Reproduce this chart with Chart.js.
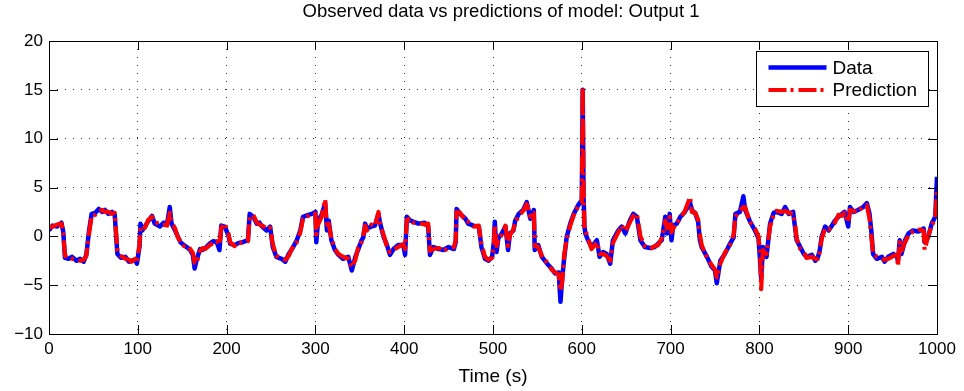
<!DOCTYPE html>
<html>
<head>
<meta charset="utf-8">
<script src="https://cdn.jsdelivr.net/npm/chart.js@4/dist/chart.umd.min.js"></script>
<style>
  html, body { margin: 0; padding: 0; background: #fff; }
  #wrap { width: 964px; height: 391px; }
</style>
</head>
<body>
<div id="wrap"><canvas id="fitChart" width="964" height="391"></canvas></div>
<script>
// waktu (s) dan nilai yang dibaca dari gambar
const times = [
  0, 4, 9, 14, 16, 18, 22, 26, 31, 35, 39, 42, 45, 48, 52, 56, 60, 63, 67, 71,
  74, 77, 81, 86, 90, 93, 97, 99, 102, 103, 105, 108, 112, 116, 119, 125, 129, 133, 136, 138,
  142, 145, 148, 152, 155, 159, 162, 164, 166, 170, 173, 176, 181, 185, 189, 192, 194, 198, 202, 204,
  209, 213, 218, 224, 226, 230, 234, 237, 240, 245, 249, 252, 256, 262, 266, 270, 275, 279, 283, 286,
  292, 296, 300, 301, 303, 307, 311, 313, 315, 318, 322, 326, 331, 337, 341, 345, 348, 352, 354, 356,
  358, 363, 367, 371, 373, 377, 380, 384, 388, 393, 399, 401, 403, 407, 410, 416, 423, 427, 429, 433,
  439, 444, 450, 456, 458, 459, 463, 469, 472, 478, 484, 487, 491, 495, 499, 501, 502, 504, 506, 510,
  514, 517, 519, 523, 525, 529, 534, 538, 542, 546, 547, 551, 555, 561, 566, 570, 574, 576, 578, 580,
  583, 587, 591, 596, 600, 601, 602, 603, 604, 607, 611, 617, 620, 624, 628, 632, 635, 641, 645, 649,
  654, 658, 662, 666, 671, 677, 682, 686, 690, 694, 696, 699, 701, 703, 707, 711, 716, 722, 724, 728,
  731, 733, 735, 741, 746, 750, 752, 756, 761, 767, 771, 773, 778, 782, 784, 789, 795, 799, 801, 802,
  804, 808, 812, 816, 819, 825, 829, 833, 838, 840, 842, 846, 850, 853, 859, 863, 866, 868, 870, 874,
  878, 881, 885, 889, 893, 896, 900, 902, 906, 911, 917, 921, 924, 926, 928, 932, 938, 941, 945, 951,
  955, 956, 958, 960, 964, 968, 973, 979, 985, 986, 990, 994, 998, 1000
];

const dataValues = [
  0.6, 1.1, 1.0, 1.4, 0.5, -2.2, -2.3, -2.1, -2.5, -2.3, -2.6, -1.9, 0.5, 2.3, 2.4, 2.8, 2.5, 2.7, 2.3, 2.5,
  2.2, -1.8, -2.2, -2.1, -2.6, -2.5, -2.4, -2.8, -1.0, 1.3, 0.6, 1.0, 1.6, 2.1, 1.3, 1.0, 1.4, 1.3, 3.0, 1.3,
  0.6, 0.0, -0.6, -0.9, -1.1, -1.4, -1.9, -3.3, -2.5, -1.3, -1.4, -1.2, -0.75, -0.5, -0.6, -1.4, 1.1, 1.0, 0.1, -0.75,
  -0.9, -0.7, -0.6, -0.4, 2.3, 2.0, 1.3, 1.4, 1.0, 0.6, 1.0, -1.1, -2.1, -2.3, -2.6, -1.8, -1.1, -0.4, 0.6, 2.0,
  2.2, 2.3, 2.5, -0.6, 1.6, 2.2, 3.4, 0.6, 1.6, -0.4, -1.4, -1.9, -2.3, -2.1, -3.5, -2.1, -1.4, -0.4, -0.1, 1.3,
  0.8, 1.0, 1.1, 2.3, 1.3, -0.1, -0.75, -1.9, -1.3, -0.9, -0.9, -1.9, 2.0, 1.6, 1.5, 1.3, 1.4, 1.0, -1.9, -1.1,
  -1.3, -1.4, -1.1, -1.3, -0.6, 2.8, 2.3, 1.8, 1.3, 1.1, 1.0, -1.1, -2.3, -2.5, -2.1, -0.5, 1.5, -1.6, -0.2, 0.3,
  1.0, -1.4, 0.3, 0.6, 1.6, 2.3, 2.7, 3.5, 1.8, 2.7, -1.4, -0.9, -2.1, -2.8, -3.3, -3.8, -3.7, -6.7, -4.2, -2.4,
  -0.05, 1.3, 2.3, 3.2, 3.7, 15.0, 4.0, 1.0, 0.3, -0.4, -1.1, -0.4, -2.1, -1.6, -1.8, -2.8, -0.4, 0.6, 1.0, 0.3,
  1.6, 2.3, 2.0, -0.4, -1.1, -1.2, -1.1, -0.75, -0.4, 2.0, 0.3, 2.3, -0.4, 1.1, 1.3, 2.0, 2.5, 3.4, 2.7, 2.3,
  1.5, -0.4, -1.1, -2.1, -3.1, -3.5, -4.8, -2.5, -1.8, -0.75, -0.1, 2.3, 2.5, 4.1, 2.7, 1.6, 0.6, -0.2, -2.8, -4.3,
  -1.1, -2.1, 1.3, 2.4, 2.5, 2.3, 3.0, 2.3, 2.5, 1.0, -0.4, -1.1, -1.8, -2.1, -1.9, -2.5, -2.1, -1.4, -0.1, 1.0,
  0.6, 1.0, 1.6, 2.0, 2.3, 2.5, 1.0, 3.0, 2.5, 2.7, 3.0, 3.4, 2.3, 0.6, -1.8, -2.3, -2.1, -2.6, -2.1, -1.8,
  -2.1, -2.5, -0.4, -1.8, -0.4, 0.3, 0.6, 0.5, 0.8, -0.6, -0.1, 1.3, 2.0, 6.1
];

const predValues = [
  0.9, 1.0, 1.2, 1.3, 0.3, -2.0, -2.1, -2.3, -2.4, -2.5, -2.4, -2.0, 0.2, 2.1, 2.2, 2.6, 2.7, 2.5, 2.5, 2.3,
  2.4, -1.5, -2.0, -2.3, -2.4, -2.6, -2.3, -2.6, -0.8, 1.0, 0.8, 0.9, 1.7, 2.0, 1.5, 1.2, 1.2, 1.1, 2.4, 1.5,
  0.8, -0.1, -0.5, -1.0, -0.9, -1.3, -1.7, -2.7, -2.8, -1.5, -1.2, -1.3, -0.9, -0.7, -0.5, -0.9, 0.9, 1.3, 0.3, -0.6,
  -1.0, -0.6, -0.7, -0.5, 2.0, 2.2, 1.4, 1.2, 1.1, 0.8, 0.9, -0.8, -2.0, -2.2, -2.4, -2.0, -1.0, -0.6, 0.4, 1.8,
  2.1, 2.4, 2.3, 0.2, 1.2, 2.0, 3.8, 0.8, 1.3, -0.2, -1.3, -1.8, -2.1, -2.3, -3.2, -2.4, -1.2, -0.6, 0.2, 1.1,
  0.6, 1.2, 1.0, 2.5, 1.1, 0.1, -0.9, -1.6, -1.4, -1.1, -0.8, -1.3, 1.7, 1.8, 1.4, 1.4, 1.2, 1.3, -1.5, -1.3,
  -1.2, -1.5, -1.2, -1.1, -0.4, 2.5, 2.4, 1.6, 1.5, 1.0, 1.1, -0.8, -2.1, -2.4, -2.2, -1.0, 1.2, -1.0, -0.4, 0.2,
  1.1, -1.0, 0.1, 0.7, 1.4, 2.1, 2.6, 3.3, 2.0, 2.4, -1.0, -1.1, -2.0, -2.7, -3.4, -3.7, -3.9, -5.6, -4.6, -2.0,
  -0.3, 1.1, 2.2, 3.1, 3.5, 15.3, 4.5, 0.8, 0.6, -0.2, -1.3, -0.6, -1.8, -1.8, -2.0, -2.5, -0.7, 0.4, 1.1, 0.5,
  1.4, 2.1, 2.3, 0.0, -1.0, -1.3, -1.0, -0.9, -0.2, 1.6, 0.8, 2.0, 0.4, 0.8, 1.4, 1.8, 2.6, 4.0, 2.5, 2.4,
  1.7, 0.2, -0.9, -2.2, -2.9, -3.4, -4.2, -2.8, -1.7, -0.9, 0.2, 2.0, 2.6, 3.0, 3.0, 1.5, 0.8, 0.0, -2.2, -5.4,
  -1.4, -1.8, 1.0, 2.2, 2.6, 2.5, 2.6, 2.4, 2.3, 1.3, -0.2, -1.3, -1.6, -2.2, -2.1, -2.3, -2.3, -1.6, -0.3, 0.8,
  0.7, 0.9, 1.4, 2.2, 2.1, 2.4, 1.4, 2.7, 2.6, 2.5, 3.1, 3.2, 1.8, 0.0, -1.6, -2.1, -2.3, -2.4, -2.3, -2.0,
  -1.9, -3.1, -0.6, -1.5, -0.6, 0.1, 0.5, 0.7, 0.6, -1.4, 0.0, 1.1, 1.8, 4.6
];

const xTicks = [0, 100, 200, 300, 400, 500, 600, 700, 800, 900, 1000];
const yTicks = [-10, -5, 0, 5, 10, 15, 20];
const seriesNames = ['Data', 'Prediction'];
const chartTitle = 'Observed data vs predictions of model: Output 1';

const fontFamily = '"Liberation Sans", Arial, Helvetica, sans-serif';

// gabungkan waktu dengan nilai untuk Chart.js
const toPoints = vals => times.map((t, i) => ({ x: t, y: vals[i] }));

// judul, bingkai, tick ke dalam, dan legenda gaya MATLAB
const matlabAxes = {
    id: 'matlabAxes',
    afterDraw(chart) {
        const { ctx, chartArea: a, scales } = chart;
        ctx.save();

        // judul di tengah area plot
        ctx.fillStyle = '#000';
        ctx.font = '18.5px ' + fontFamily;
        ctx.textAlign = 'center';
        ctx.textBaseline = 'middle';
        ctx.fillText(chartTitle, (a.left + a.right) / 2 + 8, 12);
        ctx.textAlign = 'left';

        ctx.strokeStyle = '#000';
        ctx.lineWidth = 1;
        ctx.strokeRect(Math.round(a.left) + 0.5, Math.round(a.top) + 0.5,
            Math.round(a.right - a.left), Math.round(a.bottom - a.top));

        const tl = 9;
        ctx.beginPath();
        xTicks.forEach(v => {
            const px = Math.round(scales.x.getPixelForValue(v)) + 0.5;
            ctx.moveTo(px, a.bottom); ctx.lineTo(px, a.bottom - tl);
            ctx.moveTo(px, a.top); ctx.lineTo(px, a.top + tl);
        });
        yTicks.forEach(v => {
            const py = Math.round(scales.y.getPixelForValue(v)) + 0.5;
            ctx.moveTo(a.left, py); ctx.lineTo(a.left + tl, py);
            ctx.moveTo(a.right, py); ctx.lineTo(a.right - tl, py);
        });
        ctx.stroke();

        // legenda
        const bw = 172, bh = 55;
        const bx = Math.round(a.right - 9 - bw) + 0.5;
        const by = Math.round(a.top + 10) + 0.5;
        ctx.fillStyle = '#fff';
        ctx.fillRect(bx, by, bw, bh);
        ctx.strokeRect(bx, by, bw, bh);
        ctx.font = '19px ' + fontFamily;
        chart.data.datasets.forEach((ds, i) => {
            const ly = by + 16 + i * 22.5;
            ctx.save();
            ctx.strokeStyle = ds.borderColor;
            ctx.lineWidth = ds.borderWidth;
            ctx.setLineDash(ds.borderDash || []);
            ctx.beginPath();
            ctx.moveTo(bx + 12, ly);
            ctx.lineTo(bx + 70, ly);
            ctx.stroke();
            ctx.restore();
            ctx.fillStyle = '#000';
            ctx.fillText(ds.label, bx + 76, ly + 1);
        });
        ctx.restore();
    }
};

const ctx = document.getElementById('fitChart').getContext('2d');
const chartInstance = new Chart(ctx, {
    type: 'line',
    data: {
        datasets: [{
            label: seriesNames[0],
            data: toPoints(dataValues),
            borderColor: 'rgb(0, 0, 255)',
            borderWidth: 4.5,
            borderJoinStyle: 'round',
            pointRadius: 0,
            tension: 0,
            order: 2
        }, {
            label: seriesNames[1],
            data: toPoints(predValues),
            borderColor: 'rgb(255, 0, 0)',
            borderWidth: 4.2,
            borderDash: [18, 4, 3, 5],
            borderJoinStyle: 'round',
            pointRadius: 0,
            tension: 0,
            order: 1
        }]
    },
    options: {
        responsive: false,
        animation: false,
        devicePixelRatio: 1,
        layout: { padding: { left: 0, right: 27, top: 41, bottom: 0 } },
        plugins: {
            legend: { display: false },
            tooltip: { enabled: false },
            title: { display: false }
        },
        scales: {
            x: {
                type: 'linear',
                min: 0,
                max: 1000,
                afterFit: s => { s.height = 57; },
                afterBuildTicks: s => { s.ticks = xTicks.map(v => ({ value: v })); },
                grid: { color: '#333', lineWidth: 1, drawTicks: false },
                border: { display: false, dash: [1, 7] },
                ticks: {
                    color: '#000',
                    padding: 5,
                    maxRotation: 0,
                    font: { family: fontFamily, size: 17 },
                    callback: v => String(v)
                },
                title: {
                    display: true,
                    text: 'Time (s)',
                    color: '#000',
                    font: { family: fontFamily, size: 19 },
                    padding: { top: 2, bottom: 3 }
                }
            },
            y: {
                min: -10,
                max: 20,
                afterFit: s => { s.width = 49; },
                afterBuildTicks: s => { s.ticks = yTicks.map(v => ({ value: v })); },
                grid: { color: '#333', lineWidth: 1, drawTicks: false },
                border: { display: false, dash: [1, 7] },
                ticks: {
                    color: '#000',
                    padding: 6,
                    font: { family: fontFamily, size: 17 },
                    callback: v => String(v).replace('-', '\u2212')
                }
            }
        }
    },
    plugins: [matlabAxes]
});
</script>
</body>
</html>
